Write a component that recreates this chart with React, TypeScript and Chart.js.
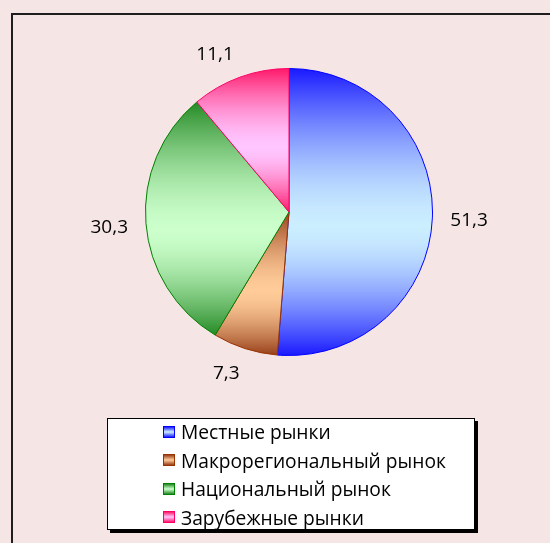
import React, { useEffect, useRef } from "react";
import { Chart, registerables } from "chart.js";

Chart.register(...registerables);

const categories: string[] = [
  "Местные рынки",
  "Макрорегиональный рынок",
  "Национальный рынок",
  "Зарубежные рынки",
];
const shares: number[] = [51.3, 7.3, 30.3, 11.1];

const darkColors: string[] = ["#1a1aff", "#98401a", "#258a25", "#ff1a6a"];
const lightColors: string[] = ["#ccefff", "#ffcc99", "#ccffcc", "#ffc6ff"];
const borderColors: string[] = ["#0000ff", "#993300", "#008000", "#ff0066"];

const FONT = "'Open Sans', 'Noto Sans', sans-serif";
const BG = "#f5e5e5";

function hexToRgb(h: string): number[] {
  const n = parseInt(h.slice(1), 16);
  return [(n >> 16) & 255, (n >> 8) & 255, n & 255];
}
function mix(a: string, b: string, f: number): string {
  const A = hexToRgb(a), B = hexToRgb(b);
  const c = A.map((v, i) => Math.round(v + (B[i] - v) * f));
  return `rgb(${c[0]},${c[1]},${c[2]})`;
}
function addStops(g: CanvasGradient, dark: string, light: string, peak: number) {
  const steps = 8;
  for (let k = 0; k <= steps; k++) {
    const s = k / steps;
    const f = 1 - Math.pow(1 - s, 1.6);
    g.addColorStop(peak * s, mix(dark, light, f));
  }
  for (let k = 1; k <= steps; k++) {
    const s = k / steps;
    const f = 1 - Math.pow(s, 1.6);
    g.addColorStop(peak + (1 - peak) * s, mix(dark, light, f));
  }
}

function sliceFill(ctx: any) {
  const chart = ctx.chart;
  const i = ctx.dataIndex;
  const area = chart.chartArea;
  if (!area || i === undefined) return lightColors[i ?? 0];
  const cx = (area.left + area.right) / 2;
  const cy = (area.top + area.bottom) / 2;
  const r = (Math.min(area.right - area.left, area.bottom - area.top) - 1) / 2;
  const data: number[] = chart.data.datasets[0].data;
  const total = data.reduce((a, b) => a + b, 0);
  let cum = 0;
  for (let k = 0; k < i; k++) cum += data[k];
  const a0 = -Math.PI / 2 + (2 * Math.PI * cum) / total;
  const a1 = a0 + (2 * Math.PI * data[i]) / total;
  const ys = [cy, cy + r * Math.sin(a0), cy + r * Math.sin(a1)];
  for (const t of [-Math.PI / 2, Math.PI / 2, (3 * Math.PI) / 2]) {
    if (t >= a0 && t <= a1) ys.push(cy + r * Math.sin(t));
  }
  const y0 = Math.min(...ys), y1 = Math.max(...ys);
  const g = chart.ctx.createLinearGradient(0, y0, 0, y1);
  addStops(g, darkColors[i], lightColors[i], 0.55);
  return g;
}

const outsideLabels = {
  id: "outsideLabels",
  afterDatasetsDraw(chart: any) {
    const ctx = chart.ctx;
    const meta = chart.getDatasetMeta(0);
    const data: number[] = chart.data.datasets[0].data;
    ctx.save();
    ctx.font = `19px ${FONT}`;
    ctx.fillStyle = "#000";
    ctx.textAlign = "center";
    ctx.textBaseline = "middle";
    meta.data.forEach((arc: any, i: number) => {
      const { x, y, startAngle, endAngle, outerRadius } = arc.getProps(
        ["x", "y", "startAngle", "endAngle", "outerRadius"],
        true
      );
      const mid = (startAngle + endAngle) / 2;
      const text = data[i].toFixed(1).replace(".", ",");
      const w = ctx.measureText(text).width;
      const h = 14;
      const d = outerRadius + 18;
      const c = Math.cos(mid), s = Math.sin(mid);
      const kx = Math.max(-1, Math.min(1, c * 4));
      const ky = Math.max(-1, Math.min(1, s * 3));
      const tx = x + c * d + (kx * w) / 2;
      const ty = y + s * d + (ky * h) / 2;
      ctx.fillText(text, tx, ty + 1);
    });
    ctx.restore();
  },
};

function LegendSwatch({ i }: { i: number }) {
  return (
    <span
      style={{
        display: "inline-block",
        boxSizing: "border-box",
        width: 12,
        height: 12,
        border: `1.5px solid ${borderColors[i]}`,
        background: `linear-gradient(to bottom, ${darkColors[i]} 0%, ${lightColors[i]} 50%, ${darkColors[i]} 100%)`,
        marginRight: 6,
      }}
    />
  );
}

export default function App() {
  const canvasRef = useRef<HTMLCanvasElement | null>(null);

  useEffect(() => {
    const canvas = canvasRef.current;
    if (!canvas) return;
    const chart = new Chart(canvas, {
      type: "pie",
      data: {
        labels: categories,
        datasets: [
          {
            data: shares,
            backgroundColor: sliceFill as any,
            borderColor: borderColors,
            borderWidth: 1,
          },
        ],
      },
      options: {
        responsive: false,
        animation: false,
        devicePixelRatio: 1,
        layout: { padding: { left: 145, right: 117, top: 68, bottom: 187 } },
        plugins: {
          legend: { display: false },
          tooltip: { enabled: false },
        },
      },
      plugins: [outsideLabels],
    });
    return () => chart.destroy();
  }, []);

  return (
    <div
      style={{
        position: "fixed",
        left: 0,
        top: 0,
        width: 550,
        height: 543,
        background: BG,
        overflow: "hidden",
        fontFamily: FONT,
      }}
    >
      <div
        style={{
          position: "absolute",
          left: 11,
          top: 13,
          width: 700,
          height: 700,
          borderLeft: "2px solid #1e1e1e",
          borderTop: "2px solid #1e1e1e",
        }}
      />
      <canvas
        ref={canvasRef}
        width={550}
        height={543}
        style={{ position: "absolute", left: 0, top: 0, width: 550, height: 543 }}
      />
      <div
        style={{
          position: "absolute",
          left: 107,
          top: 418,
          width: 368,
          height: 112,
          boxSizing: "border-box",
          background: "#fff",
          border: "1px solid #000",
          boxShadow: "3px 3px 0 #000",
        }}
      >
        {categories.map((c, i) => (
          <div
            key={c}
            style={{
              position: "absolute",
              left: 55,
              top: i * 28.5 - 1.5,
              height: 28,
              display: "flex",
              alignItems: "center",
              fontSize: 19.2,
              color: "#000",
              whiteSpace: "nowrap",
            }}
          >
            <LegendSwatch i={i} />
            <span>{c}</span>
          </div>
        ))}
      </div>
    </div>
  );
}
